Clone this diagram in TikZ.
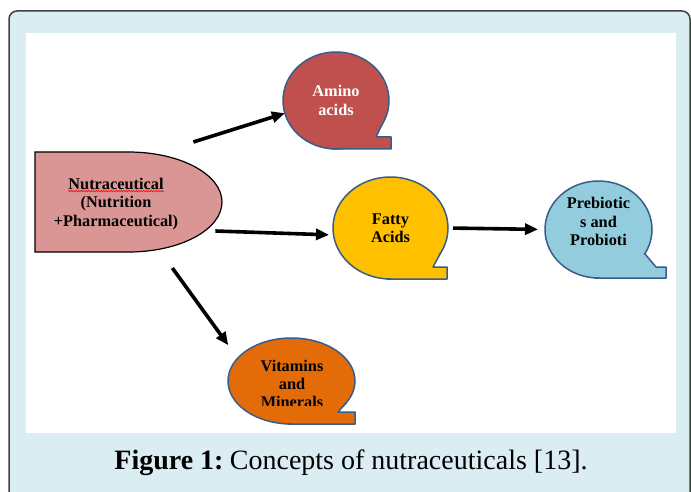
\documentclass[tikz,border=0pt]{standalone}
\usepackage{fontspec}
\setmainfont{Liberation Serif}
\newfontfamily\capfont{Liberation Serif}
\usetikzlibrary{arrows.meta, positioning, calc, shapes.geometric, decorations.pathmorphing}

\definecolor{panelblue}{HTML}{DAEDF3}
\definecolor{framegray}{HTML}{404040}
\definecolor{nutrapink}{HTML}{D99694}
\definecolor{aminored}{HTML}{C0504D}
\definecolor{fattygold}{HTML}{FFC000}
\definecolor{biotblue}{HTML}{93CDDD}
\definecolor{vitorange}{HTML}{E36C09}
\definecolor{edgeblue}{HTML}{385D8A}

% tail of a callout: colour, bottom, tip bottom, tip top, notch, joint
\newcommand{\bubtail}[6]{%
  \fill[#1] #2 -- #3 -- #4 -- #5 -- #6 -- cycle;
  \draw[bubedge] ($#2+(-4,0)$) -- #3 -- #4 -- #5 -- #6;
}

\begin{document}
\begin{tikzpicture}[
    x=1pt, y=-1pt,
    bubedge/.style={draw=edgeblue, line width=1.5pt, line join=round},
    bubble/.style={ellipse, bubedge, inner sep=0pt, outer sep=0pt, align=center,
                   font=\bfseries\fontsize{16.3}{18.3}\selectfont},
    arr/.style={-{Triangle[length=13pt,width=11pt]}, line width=3.6pt},
  ]
  \useasboundingbox (0,0) rectangle (691,492);

  % panel and frame
  \fill[panelblue, rounded corners=8pt] (9,510) -- (9,11) -- (690,11) -- (690,510) -- cycle;
  \draw[framegray, line width=1.5pt, rounded corners=8pt] (9,510) -- (9,11) -- (690,11) -- (690,510);
  \fill[white] (26,33) rectangle (676,433);

  % left shape
  \filldraw[fill=nutrapink, draw=black, line width=1.2pt]
    (35,152) -- (128.5,152) arc[start angle=-90, end angle=90, x radius=93.5, y radius=50]
    -- (35,252) -- cycle;
  \node[align=center, inner sep=0pt, font=\bfseries\fontsize{16.3}{18.3}\selectfont] (nutra) at (116,204)
    {Nutraceutical\\(Nutrition\\+Pharmaceutical)};
  \draw[red, line width=0.6pt, decorate, decoration={snake, amplitude=0.7pt, segment length=2.5pt}]
    ($(nutra.north)+(-48,13)$) -- ++(96,0);

  % callouts
  \node[bubble, fill=aminored, text=white, minimum width=106pt, minimum height=97pt]
    (amino) at (336,100.5) {Amino\\acids};
  \bubtail{aminored}{(336,149)}{(391,149)}{(391,137)}{(376,137)}{(381.9,124.75)}

  \node[bubble, fill=fattygold, minimum width=115pt, minimum height=102pt]
    (fatty) at (390.5,228) {Fatty\\Acids};
  \bubtail{fattygold}{(390.5,279)}{(447,279)}{(447,267)}{(433,267)}{(440.3,253.5)}

  \node[bubble, fill=biotblue, minimum width=107pt, minimum height=97pt, text depth=16pt]
    (biot) at (598.5,229.5) {Prebiotic\\s and\\Probioti};
  \bubtail{biotblue}{(598.5,278)}{(666,278)}{(666,267)}{(656,267)}{(644.8,253.75)}

  \node[bubble, fill=vitorange, minimum width=127pt, minimum height=86pt]
    (vit) at (291.5,381) {};
  \bubtail{vitorange}{(291.5,424)}{(355,424)}{(355,412)}{(338,412)}{(346.5,402.5)}
  \begin{scope}
    \clip (220,330) rectangle (360,405);
    \node[align=center, inner sep=0pt, font=\bfseries\fontsize{16.3}{18.3}\selectfont] (vittext) at (292,384)
      {Vitamins\\and\\Minerals};
  \end{scope}

  % arrows
  \draw[arr] ([shift={(15,-62)}]nutra.east) -- (amino.194);
  \draw[arr, shorten >=4.5pt] ([shift={(37,27)}]nutra.east) -- (fatty.187);
  \draw[arr, shorten <=5pt, shorten >=7pt] (fatty.east) -- (biot.west);
  \draw[arr, shorten >=16pt] ([shift={(-6,64)}]nutra.east) -- (vit.157);

  \node[font=\fontsize{28}{32}\selectfont] (caption) at (351,463)
    {\capfont\textbf{Figure 1:}\hspace{-3pt} Concepts of nutraceuticals [13].};
\end{tikzpicture}
\end{document}
